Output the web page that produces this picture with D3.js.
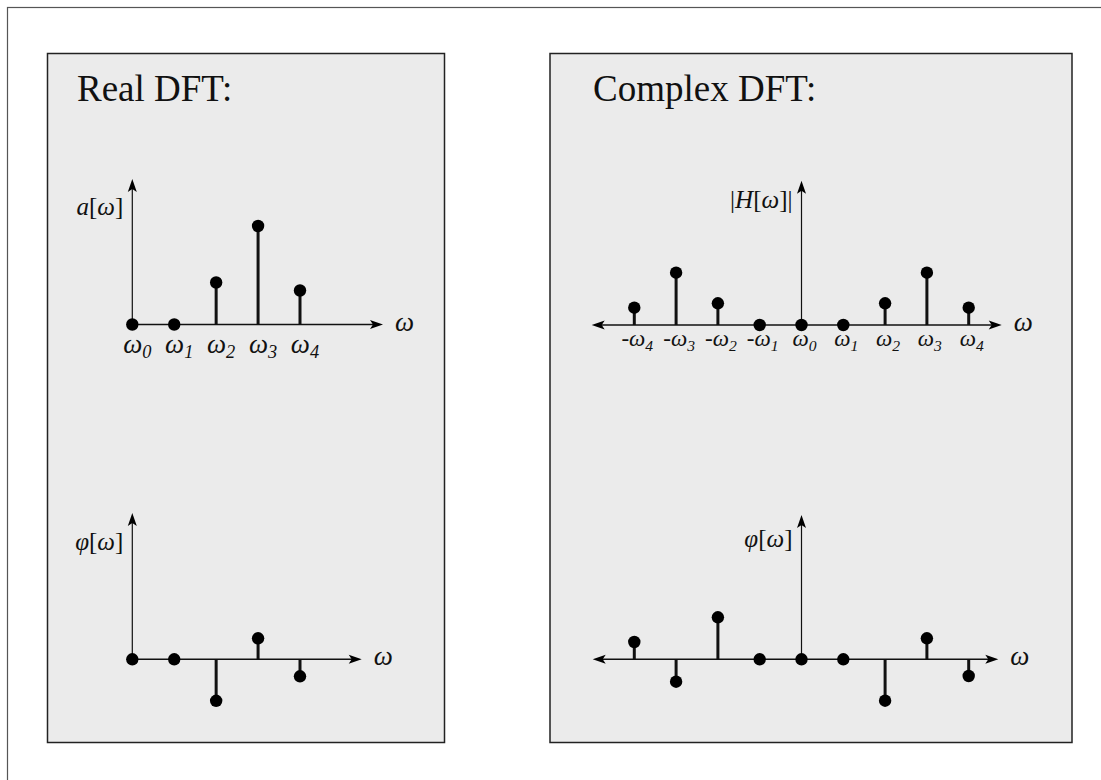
<!DOCTYPE html>
<meta charset="utf-8" />
<title>Real DFT vs Complex DFT</title>
<style>
  body { margin: 0; background: #fff; }
  svg { display: block; }
  text { font-family: "Liberation Serif", "Times New Roman", serif; fill: #111; }
  .panel { fill: #ebebeb; stroke: #222; stroke-width: 1.5px; }
  .axis { stroke: #111; fill: none; }
  .stem { stroke: #111; stroke-width: 3px; }
  .dot { fill: #000; }
</style>
<body>
<svg width="1101" height="780"></svg>
<script src="https://d3js.org/d3.v7.min.js"></script>
<script>
// ---- data ----
const realBins = [0, 1, 2, 3, 4];
const realMag = [0, 0, 4.2, 9.85, 3.4];
const realPhase = [0, 0, -4.15, 2.1, -1.7];

const cplxBins = [-4, -3, -2, -1, 0, 1, 2, 3, 4];
const cplxMag = [1.73, 5.23, 2.17, 0, 0, 0, 2.17, 5.23, 1.73];
const cplxPhase = [1.73, -2.24, 4.2, 0, 0, 0, -4.14, 2.1, -1.67];

const titles = ["Real DFT:", "Complex DFT:"];

const svg = d3.select("svg");

// outer frame (right / bottom edges run off the page)
svg.append("rect")
  .attr("x", 7.5).attr("y", 7.5)
  .attr("width", 1300).attr("height", 1000)
  .attr("fill", "none").attr("stroke", "#555").attr("stroke-width", 1.2);

// panels
const panels = [
  { x: 47.5, w: 397, title: titles[0], tx: 77 },
  { x: 550, w: 522, title: titles[1], tx: 593 }
];
panels.forEach(p => {
  svg.append("rect").attr("class", "panel")
    .attr("x", p.x).attr("y", 53.5).attr("width", p.w).attr("height", 689);
  svg.append("text")
    .attr("x", p.tx).attr("y", 100.5)
    .attr("font-size", 37)
    .text(p.title);
});

function arrow(g, tx, ty, dir) {
  // dir: "r", "l", "u"
  let d;
  if (dir === "r") d = `M${tx},${ty}L${tx - 13},${ty - 4.5}L${tx - 10},${ty}L${tx - 13},${ty + 4.5}Z`;
  if (dir === "l") d = `M${tx},${ty}L${tx + 13},${ty - 4.5}L${tx + 10},${ty}L${tx + 13},${ty + 4.5}Z`;
  if (dir === "u") d = `M${tx},${ty}L${tx - 4.5},${ty + 13}L${tx},${ty + 10}L${tx + 4.5},${ty + 13}Z`;
  g.append("path").attr("d", d).attr("fill", "#000");
}

function stemPlot(cfg) {
  const g = svg.append("g");
  const x = d3.scaleLinear().domain(cfg.domain).range(cfg.range);
  const y = d3.scaleLinear().domain([0, 10]).range([cfg.axisY, cfg.axisY - 100]);
  const x0 = x(0);

  // x axis
  const xStart = cfg.twoSided ? cfg.leftTip + 8 : x0;
  g.append("line").attr("class", "axis")
    .attr("x1", xStart).attr("x2", cfg.rightTip - 8)
    .attr("y1", cfg.axisY).attr("y2", cfg.axisY)
    .attr("stroke-width", 1.5);
  arrow(g, cfg.rightTip, cfg.axisY, "r");
  if (cfg.twoSided) arrow(g, cfg.leftTip, cfg.axisY, "l");

  // y axis
  g.append("line").attr("class", "axis")
    .attr("x1", x0).attr("x2", x0)
    .attr("y1", cfg.axisY).attr("y2", cfg.topTip + 8)
    .attr("stroke-width", 1.2);
  arrow(g, x0, cfg.topTip, "u");

  // stems + dots
  const pts = cfg.bins.map((b, i) => ({ b, v: cfg.values[i] }));
  g.selectAll("line.stem").data(pts.filter(d => d.v !== 0)).join("line")
    .attr("class", "stem")
    .attr("x1", d => x(d.b)).attr("x2", d => x(d.b))
    .attr("y1", y(0)).attr("y2", d => y(d.v));
  g.selectAll("circle.dot").data(pts).join("circle")
    .attr("class", "dot")
    .attr("cx", d => x(d.b)).attr("cy", d => y(d.v))
    .attr("r", 6.2);

  // y label
  const yl = g.append("text")
    .attr("x", x0 - 9).attr("y", cfg.yLabelY)
    .attr("text-anchor", "end")
    .attr("font-size", 25);
  cfg.yLabel.forEach(([s, it]) => {
    yl.append("tspan").attr("font-style", it ? "italic" : "normal").text(s);
  });

  // omega label at the end of x axis
  g.append("text")
    .attr("x", cfg.rightTip + 12).attr("y", cfg.axisY + 6)
    .attr("font-size", 27).attr("font-style", "italic")
    .text("ω");

  // tick labels
  if (cfg.ticks) {
    const tl = g.selectAll("text.tick").data(cfg.bins).join("text")
      .attr("class", "tick")
      .attr("x", d => x(d) + cfg.tickDx)
      .attr("y", cfg.axisY + cfg.tickDy)
      .attr("text-anchor", "middle")
      .attr("font-size", cfg.tickSize)
      .attr("font-style", "italic");
    tl.append("tspan").text(d => (d < 0 ? "-" : "") + "ω");
    tl.append("tspan")
      .attr("font-size", cfg.tickSize * 0.68)
      .attr("dy", cfg.tickSize * 0.2)
      .text(d => Math.abs(d));
  }
}

stemPlot({
  bins: realBins, values: realMag, domain: [0, 4], range: [132.3, 300],
  axisY: 324.5, rightTip: 383, topTip: 179, yLabelY: 215,
  yLabel: [["a", true], ["[", false], ["ω", true], ["]", false]],
  ticks: true, tickDx: 5, tickDy: 28, tickSize: 27
});
stemPlot({
  bins: realBins, values: realPhase, domain: [0, 4], range: [132.3, 300],
  axisY: 659.3, rightTip: 361.7, topTip: 513, yLabelY: 550,
  yLabel: [["φ", true], ["[", false], ["ω", true], ["]", false]],
  ticks: false
});
stemPlot({
  bins: cplxBins, values: cplxMag, domain: [-4, 4], range: [634.3, 968.7],
  axisY: 325, twoSided: true, leftTip: 591.7, rightTip: 1001.7, topTip: 180.7, yLabelY: 208,
  yLabel: [["|", false], ["H", true], ["[", false], ["ω", true], ["]|", false]],
  ticks: true, tickDx: 3, tickDy: 21, tickSize: 23
});
stemPlot({
  bins: cplxBins, values: cplxPhase, domain: [-4, 4], range: [634.3, 968.7],
  axisY: 659.3, twoSided: true, leftTip: 592.7, rightTip: 998.3, topTip: 515, yLabelY: 547,
  yLabel: [["φ", true], ["[", false], ["ω", true], ["]", false]],
  ticks: false
});
</script>
</body>
